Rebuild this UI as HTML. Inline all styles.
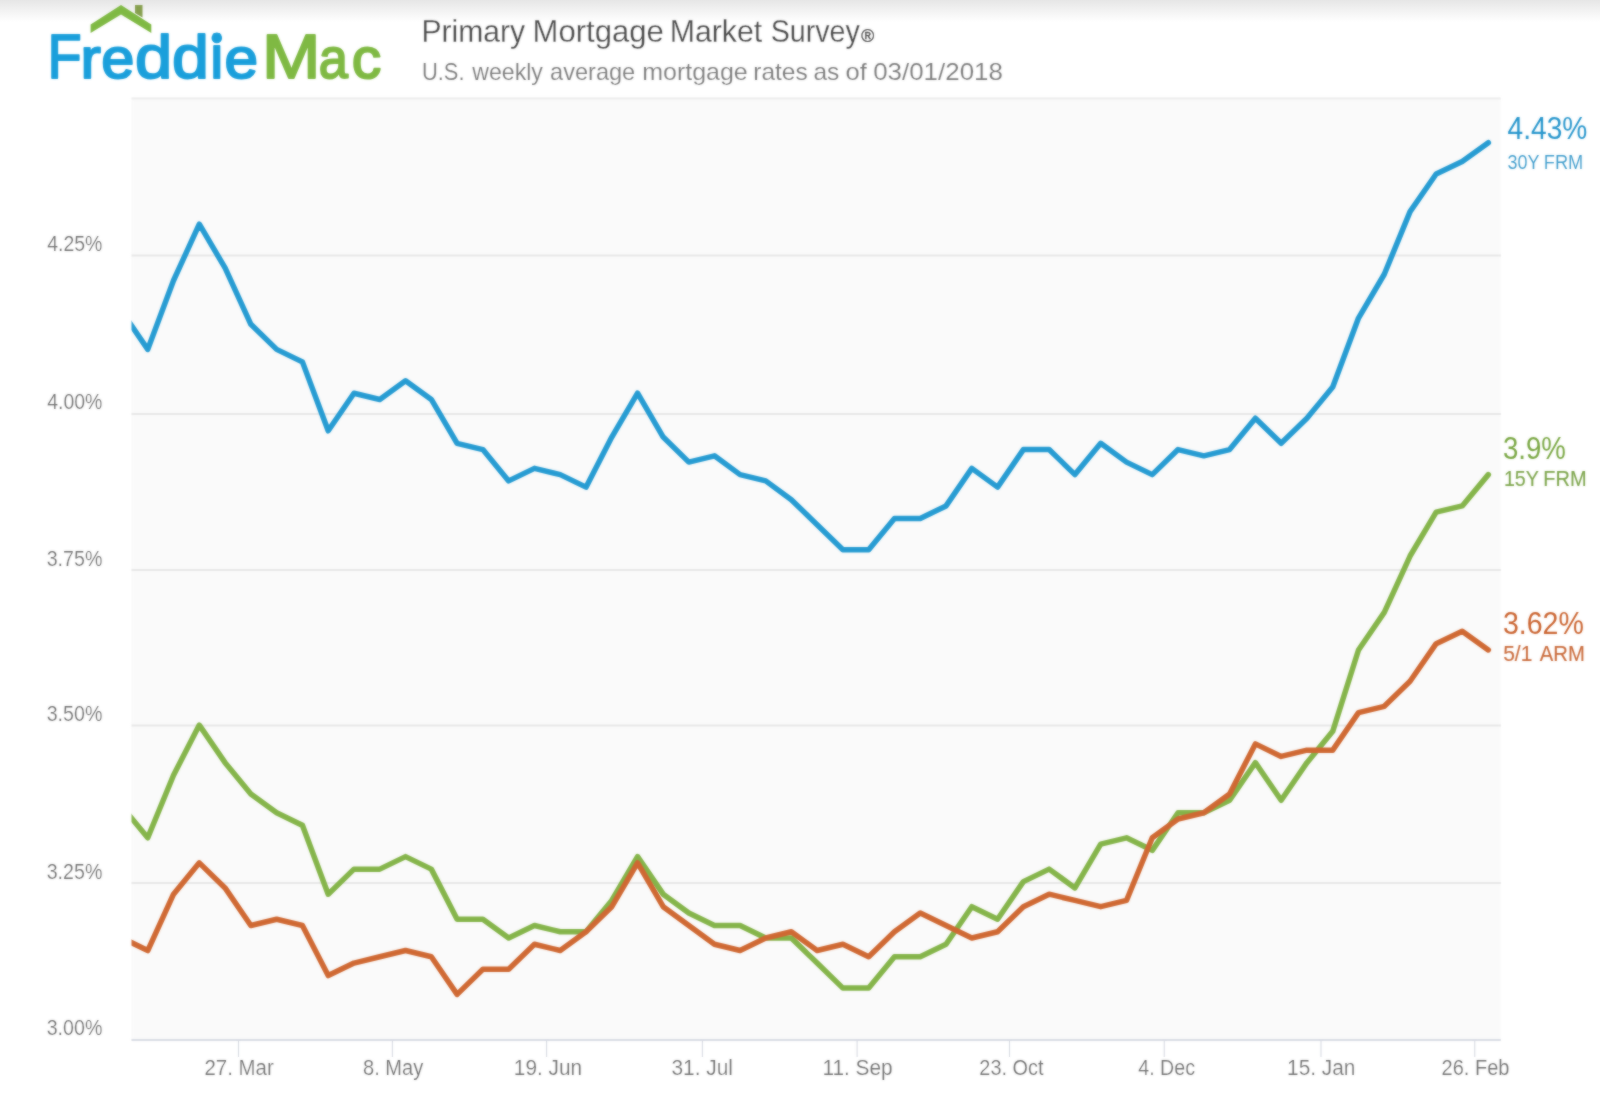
<!DOCTYPE html>
<html lang="en">
<head>
<meta charset="utf-8">
<title>Primary Mortgage Market Survey</title>
<style>
html,body{margin:0;padding:0;background:#fff;}
body{width:1600px;height:1112px;overflow:hidden;position:relative;font-family:"Liberation Sans",sans-serif;}
#shade{position:absolute;left:0;top:0;width:1600px;height:22px;background:linear-gradient(to bottom,#e6e6e6 0%,#efefef 35%,#fff 100%);}
svg{position:absolute;left:0;top:0;}
text{font-family:"Liberation Sans",sans-serif;}
.ser{fill:none;stroke-width:5.5;stroke-linejoin:round;stroke-linecap:round;}
</style>
</head>
<body>
<div id="shade"></div>
<svg width="1600" height="1112" viewBox="0 0 1600 1112">
<defs><filter id="soft" x="0" y="0" width="1600" height="1112" filterUnits="userSpaceOnUse" color-interpolation-filters="sRGB"><feGaussianBlur stdDeviation="0.8" result="b"/><feComposite in="SourceGraphic" in2="b" operator="arithmetic" k1="0" k2="0.45" k3="0.55" k4="0"/></filter><clipPath id="pc"><rect x="131.5" y="87.5" width="1369.3" height="952.5"/></clipPath></defs>
<g filter="url(#soft)">
<!-- logo -->
<g id="logo" aria-label="Freddie Mac">
<polygon points="90.6,24.4 121,5 151.3,24.4 151.3,33 121,14.4 90.6,33" fill="#7fb943"/>
<polygon points="135,5 142.5,5 142.5,17.6 135,12.9" fill="#869f4e"/>
<text y="78.4" fill="#1a9fdb" stroke="#1a9fdb" stroke-width="2.0" stroke-linejoin="round"><tspan x="47.39" font-size="63.8" textLength="34.15" lengthAdjust="spacingAndGlyphs">F</tspan><tspan x="80.47" font-size="57.5" textLength="20.38" lengthAdjust="spacingAndGlyphs">r</tspan><tspan x="101.22" font-size="57.5" textLength="33.13" lengthAdjust="spacingAndGlyphs">e</tspan><tspan x="135.06" font-size="60.5" textLength="37.20" lengthAdjust="spacingAndGlyphs">d</tspan><tspan x="172.08" font-size="60.5" textLength="36.89" lengthAdjust="spacingAndGlyphs">d</tspan><tspan x="210.28" font-size="60.5" textLength="13.08" lengthAdjust="spacingAndGlyphs">i</tspan><tspan x="224.43" font-size="57.5" textLength="33.61" lengthAdjust="spacingAndGlyphs">e</tspan></text>
<text y="78.4" fill="#7fb943" stroke="#7fb943" stroke-width="2.0" stroke-linejoin="round"><tspan x="262.11" font-size="63.8" textLength="58.47" lengthAdjust="spacingAndGlyphs">M</tspan><tspan x="318.67" font-size="57.5" textLength="29.14" lengthAdjust="spacingAndGlyphs">a</tspan><tspan x="351.74" font-size="57.5" textLength="29.48" lengthAdjust="spacingAndGlyphs">c</tspan></text>
<circle cx="216.8" cy="37.9" r="5.3" fill="#1a9fdb"/>
</g>
<!-- titles -->
<text y="42.2" font-size="32" fill="#484848" stroke="#fff" stroke-width="0.3"><tspan x="421.41" textLength="103.76" lengthAdjust="spacingAndGlyphs">Primary</tspan> <tspan x="532.58" textLength="131.32" lengthAdjust="spacingAndGlyphs">Mortgage</tspan> <tspan x="669.64" textLength="92.65" lengthAdjust="spacingAndGlyphs">Market</tspan> <tspan x="770.66" textLength="89.18" lengthAdjust="spacingAndGlyphs">Survey</tspan></text>
<text x="861.2" y="41.6" font-size="17.5" fill="#555" stroke="#555" stroke-width="0.4">®</text>
<text y="79.5" font-size="24" fill="#7a7a7a" stroke="#fff" stroke-width="0.15"><tspan x="421.90" textLength="42.58" lengthAdjust="spacingAndGlyphs">U.S.</tspan> <tspan x="472.25" textLength="70.61" lengthAdjust="spacingAndGlyphs">weekly</tspan> <tspan x="550.02" textLength="85.20" lengthAdjust="spacingAndGlyphs">average</tspan> <tspan x="642.19" textLength="105.50" lengthAdjust="spacingAndGlyphs">mortgage</tspan> <tspan x="753.22" textLength="54.51" lengthAdjust="spacingAndGlyphs">rates</tspan> <tspan x="813.48" textLength="25.89" lengthAdjust="spacingAndGlyphs">as</tspan> <tspan x="845.43" textLength="21.33" lengthAdjust="spacingAndGlyphs">of</tspan> <tspan x="873.17" textLength="129.79" lengthAdjust="spacingAndGlyphs">03/01/2018</tspan></text>
<!-- plot -->
<rect x="131.5" y="97.5" width="1369.3" height="942.5" fill="#fafafa"/>
<line x1="131.5" x2="1500.8" y1="883.00" y2="883.00" stroke="#e7e7e7" stroke-width="2"/>
<line x1="131.5" x2="1500.8" y1="725.50" y2="725.50" stroke="#e7e7e7" stroke-width="2"/>
<line x1="131.5" x2="1500.8" y1="570.00" y2="570.00" stroke="#e7e7e7" stroke-width="2"/>
<line x1="131.5" x2="1500.8" y1="414.00" y2="414.00" stroke="#e7e7e7" stroke-width="2"/>
<line x1="131.5" x2="1500.8" y1="255.50" y2="255.50" stroke="#e7e7e7" stroke-width="2"/>
<line x1="131.5" x2="1500.8" y1="98.50" y2="98.50" stroke="#eeeeee" stroke-width="2"/>

<line x1="131.5" x2="1500.8" y1="1040.0" y2="1040.0" stroke="#d8dbe4" stroke-width="2"/>
<line x1="238.5" x2="238.5" y1="1040.0" y2="1057.0" stroke="#d6d9e1" stroke-width="1.1"/>
<text y="1074.8" font-size="22" fill="#6e6e6e" stroke="#fff" stroke-width="0.2"><tspan x="204.47" textLength="69.34" lengthAdjust="spacingAndGlyphs">27. Mar</tspan></text>
<line x1="392.4" x2="392.4" y1="1040.0" y2="1057.0" stroke="#d6d9e1" stroke-width="1.1"/>
<text y="1074.8" font-size="22" fill="#6e6e6e" stroke="#fff" stroke-width="0.2"><tspan x="363.09" textLength="60.18" lengthAdjust="spacingAndGlyphs">8. May</tspan></text>
<line x1="546.6" x2="546.6" y1="1040.0" y2="1057.0" stroke="#d6d9e1" stroke-width="1.1"/>
<text y="1074.8" font-size="22" fill="#6e6e6e" stroke="#fff" stroke-width="0.2"><tspan x="513.85" textLength="68.24" lengthAdjust="spacingAndGlyphs">19. Jun</tspan></text>
<line x1="702.4" x2="702.4" y1="1040.0" y2="1057.0" stroke="#d6d9e1" stroke-width="1.1"/>
<text y="1074.8" font-size="22" fill="#6e6e6e" stroke="#fff" stroke-width="0.2"><tspan x="671.45" textLength="61.55" lengthAdjust="spacingAndGlyphs">31. Jul</tspan></text>
<line x1="857.1" x2="857.1" y1="1040.0" y2="1057.0" stroke="#d6d9e1" stroke-width="1.1"/>
<text y="1074.8" font-size="22" fill="#6e6e6e" stroke="#fff" stroke-width="0.2"><tspan x="822.44" textLength="70.21" lengthAdjust="spacingAndGlyphs">11. Sep</tspan></text>
<line x1="1009.5" x2="1009.5" y1="1040.0" y2="1057.0" stroke="#d6d9e1" stroke-width="1.1"/>
<text y="1074.8" font-size="22" fill="#6e6e6e" stroke="#fff" stroke-width="0.2"><tspan x="979.35" textLength="64.06" lengthAdjust="spacingAndGlyphs">23. Oct</tspan></text>
<line x1="1164.25" x2="1164.25" y1="1040.0" y2="1057.0" stroke="#d6d9e1" stroke-width="1.1"/>
<text y="1074.8" font-size="22" fill="#6e6e6e" stroke="#fff" stroke-width="0.2"><tspan x="1138.30" textLength="56.69" lengthAdjust="spacingAndGlyphs">4. Dec</tspan></text>
<line x1="1321.0" x2="1321.0" y1="1040.0" y2="1057.0" stroke="#d6d9e1" stroke-width="1.1"/>
<text y="1074.8" font-size="22" fill="#6e6e6e" stroke="#fff" stroke-width="0.2"><tspan x="1287.10" textLength="68.24" lengthAdjust="spacingAndGlyphs">15. Jan</tspan></text>
<line x1="1474.75" x2="1474.75" y1="1040.0" y2="1057.0" stroke="#d6d9e1" stroke-width="1.1"/>
<text y="1074.8" font-size="22" fill="#6e6e6e" stroke="#fff" stroke-width="0.2"><tspan x="1441.59" textLength="67.91" lengthAdjust="spacingAndGlyphs">26. Feb</tspan></text>

<text y="1035.0" font-size="22" fill="#6e6e6e" stroke="#fff" stroke-width="0.2"><tspan x="46.71" textLength="55.68" lengthAdjust="spacingAndGlyphs">3.00%</tspan></text>
<text y="879.1" font-size="22" fill="#6e6e6e" stroke="#fff" stroke-width="0.2"><tspan x="46.71" textLength="55.68" lengthAdjust="spacingAndGlyphs">3.25%</tspan></text>
<text y="721.2" font-size="22" fill="#6e6e6e" stroke="#fff" stroke-width="0.2"><tspan x="46.71" textLength="55.68" lengthAdjust="spacingAndGlyphs">3.50%</tspan></text>
<text y="565.5" font-size="22" fill="#6e6e6e" stroke="#fff" stroke-width="0.2"><tspan x="46.71" textLength="55.68" lengthAdjust="spacingAndGlyphs">3.75%</tspan></text>
<text y="409.0" font-size="22" fill="#6e6e6e" stroke="#fff" stroke-width="0.2"><tspan x="47.16" textLength="55.22" lengthAdjust="spacingAndGlyphs">4.00%</tspan></text>
<text y="251.2" font-size="22" fill="#6e6e6e" stroke="#fff" stroke-width="0.2"><tspan x="47.16" textLength="55.22" lengthAdjust="spacingAndGlyphs">4.25%</tspan></text>

<g clip-path="url(#pc)">
<path class="ser" stroke="#259bd2" d="M121.96 311.81 L147.74 349.38 L173.52 280.50 L199.30 224.14 L225.08 267.97 L250.86 324.33 L276.64 349.38 L302.42 361.90 L328.20 430.79 L353.98 393.21 L379.76 399.48 L405.54 380.69 L431.32 399.48 L457.10 443.31 L482.88 449.57 L508.66 480.88 L534.44 468.36 L560.22 474.62 L586.00 487.14 L611.78 437.05 L637.56 393.21 L663.19 437.05 L688.82 462.10 L714.45 455.83 L740.08 474.62 L765.71 480.88 L791.34 499.67 L817.12 524.72 L842.90 549.76 L868.68 549.76 L894.46 518.45 L920.24 518.45 L946.02 505.93 L971.80 468.36 L997.58 487.14 L1023.36 449.57 L1049.14 449.57 L1074.92 474.62 L1100.70 443.31 L1126.48 462.10 L1152.26 474.62 L1178.04 449.57 L1203.82 455.83 L1229.60 449.57 L1255.38 418.26 L1281.16 443.31 L1306.94 418.26 L1332.72 386.95 L1358.50 318.07 L1384.28 274.24 L1410.06 211.62 L1436.14 174.04 L1462.22 161.52 L1488.30 142.73"/>
<path class="ser" stroke="#84b449" d="M121.96 806.51 L147.74 837.82 L173.52 775.20 L199.30 725.10 L225.08 762.67 L250.86 793.98 L276.64 812.77 L302.42 825.29 L328.20 894.17 L353.98 869.13 L379.76 869.13 L405.54 856.60 L431.32 869.13 L457.10 919.22 L482.88 919.22 L508.66 938.01 L534.44 925.48 L560.22 931.75 L586.00 931.75 L611.78 900.44 L637.56 856.60 L663.19 894.17 L688.82 912.96 L714.45 925.48 L740.08 925.48 L765.71 938.01 L791.34 938.01 L817.12 963.06 L842.90 988.10 L868.68 988.10 L894.46 956.79 L920.24 956.79 L946.02 944.27 L971.80 906.70 L997.58 919.22 L1023.36 881.65 L1049.14 869.13 L1074.92 887.91 L1100.70 844.08 L1126.48 837.82 L1152.26 850.34 L1178.04 812.77 L1203.82 812.77 L1229.60 800.24 L1255.38 762.67 L1281.16 800.24 L1306.94 762.67 L1332.72 731.36 L1358.50 649.96 L1384.28 612.38 L1410.06 556.03 L1436.14 512.19 L1462.22 505.93 L1488.30 474.62"/>
<path class="ser" stroke="#cf6832" d="M121.96 938.01 L147.74 950.53 L173.52 894.17 L199.30 862.86 L225.08 887.91 L250.86 925.48 L276.64 919.22 L302.42 925.48 L328.20 975.58 L353.98 963.06 L379.76 956.79 L405.54 950.53 L431.32 956.79 L457.10 994.37 L482.88 969.32 L508.66 969.32 L534.44 944.27 L560.22 950.53 L586.00 931.75 L611.78 906.70 L637.56 862.86 L663.19 906.70 L688.82 925.48 L714.45 944.27 L740.08 950.53 L765.71 938.01 L791.34 931.75 L817.12 950.53 L842.90 944.27 L868.68 956.79 L894.46 931.75 L920.24 912.96 L946.02 925.48 L971.80 938.01 L997.58 931.75 L1023.36 906.70 L1049.14 894.17 L1074.92 900.44 L1100.70 906.70 L1126.48 900.44 L1152.26 837.82 L1178.04 819.03 L1203.82 812.77 L1229.60 793.98 L1255.38 743.89 L1281.16 756.41 L1306.94 750.15 L1332.72 750.15 L1358.50 712.58 L1384.28 706.31 L1410.06 681.27 L1436.14 643.69 L1462.22 631.17 L1488.30 649.96"/>
</g>
<!-- end labels -->
<text y="138.6" font-size="31" fill="#2595cc"><tspan x="1507.52" textLength="79.78" lengthAdjust="spacingAndGlyphs">4.43%</tspan></text>
<text y="168.5" font-size="20.5" fill="#3a9acb" stroke="#fff" stroke-width="0.1"><tspan x="1507.55" textLength="31.66" lengthAdjust="spacingAndGlyphs">30Y</tspan> <tspan x="1543.74" textLength="39.53" lengthAdjust="spacingAndGlyphs">FRM</tspan></text>
<text y="458.9" font-size="31" fill="#78a641"><tspan x="1502.99" textLength="62.95" lengthAdjust="spacingAndGlyphs">3.9%</tspan></text>
<text y="485.7" font-size="21.5" fill="#7da54c" stroke="#7da54c" stroke-width="0.15"><tspan x="1503.92" textLength="34.64" lengthAdjust="spacingAndGlyphs">15Y</tspan> <tspan x="1543.37" textLength="43.29" lengthAdjust="spacingAndGlyphs">FRM</tspan></text>
<text y="634.3" font-size="31" fill="#ca632f"><tspan x="1502.95" textLength="80.91" lengthAdjust="spacingAndGlyphs">3.62%</tspan></text>
<text y="660.7" font-size="21.3" fill="#c96a3a" stroke="#c96a3a" stroke-width="0.15"><tspan x="1503.16" textLength="29.16" lengthAdjust="spacingAndGlyphs">5/1</tspan> <tspan x="1539.85" textLength="45.04" lengthAdjust="spacingAndGlyphs">ARM</tspan></text>
</g>
</svg>
</body>
</html>
